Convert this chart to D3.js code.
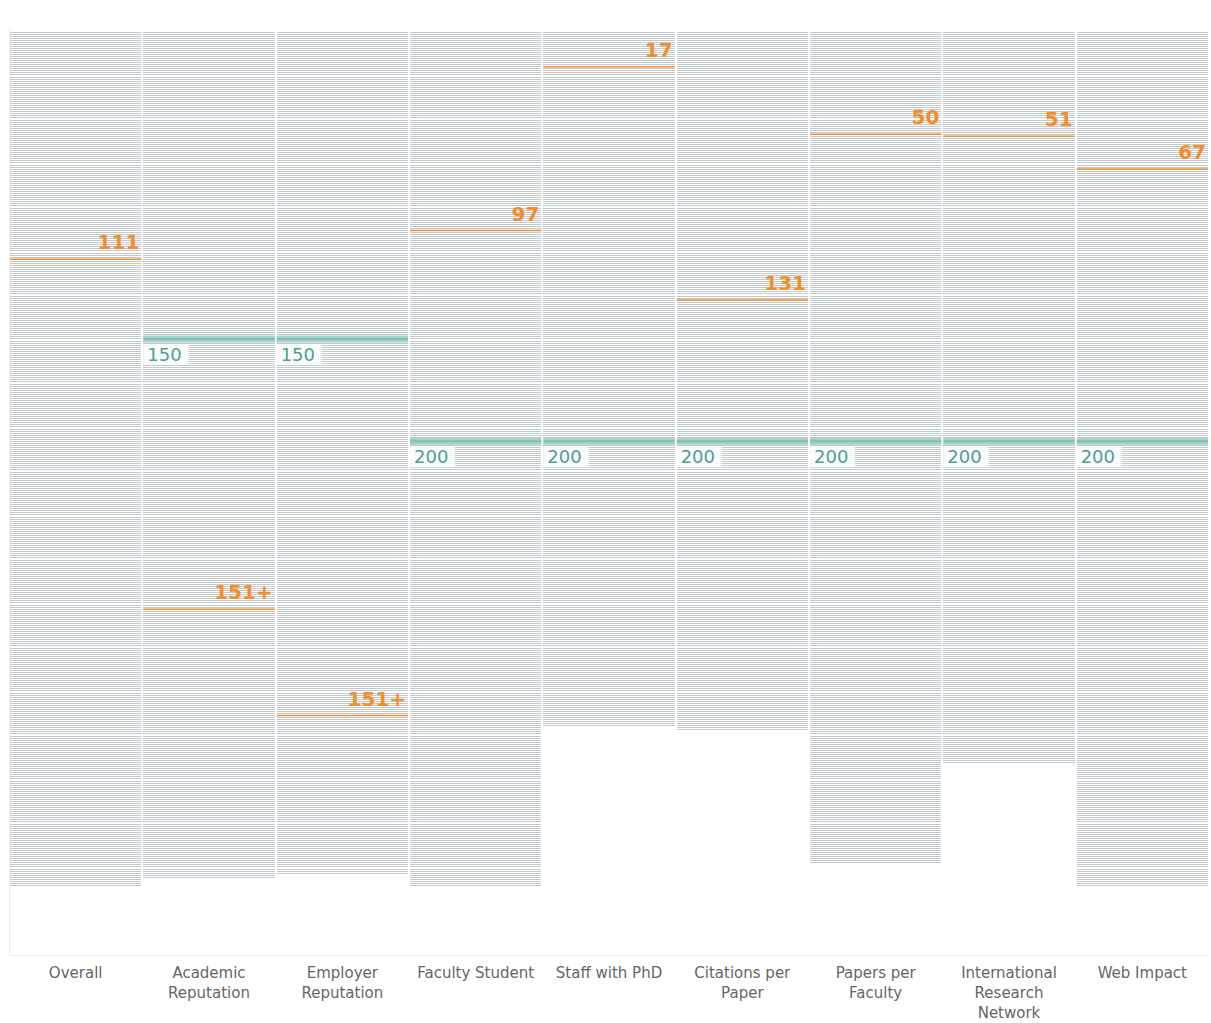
<!DOCTYPE html>
<html>
<head>
<meta charset="utf-8">
<script src="https://cdn.jsdelivr.net/npm/d3@7"></script>
<style>
body { margin: 0; background: #fff; }
svg { font-family: 'DejaVu Sans', sans-serif; }
</style>
</head>
<body>
<svg id="chart" width="1211" height="1023"></svg>
<script>
// one column per ranking indicator
var indicators = ['Overall', 'Academic Reputation', 'Employer Reputation', 'Faculty Student',
  'Staff with PhD', 'Citations per Paper', 'Papers per Faculty',
  'International Research Network', 'Web Impact'];
var axisLabels = [['Overall'], ['Academic', 'Reputation'], ['Employer', 'Reputation'],
  ['Faculty Student'], ['Staff with PhD'], ['Citations per', 'Paper'], ['Papers per', 'Faculty'],
  ['International', 'Research', 'Network'], ['Web Impact']];
// how many ranked universities in each column
var rankedCounts = [418, 414, 412, 418, 340, 342, 407, 358, 418];
// cut-off line (top 150 / top 200)
var cutoffs = [null, 150, 150, 200, 200, 200, 200, 200, 200];
// highlighted university: row position and displayed rank
var highlightRow = [111, 282, 334, 97, 17, 131, 50, 51, 67];
var highlightLabel = ['111', '151+', '151+', '97', '17', '131', '50', '51', '67'];

var svg = d3.select('#chart');
var margin = {top: 32, left: 10, right: 3, bottom: 68};
var width = +svg.attr('width'), height = +svg.attr('height');

var x = d3.scaleBand()
  .domain(indicators)
  .range([margin.left, width - margin.right])
  .paddingInner(0.015);
var y = d3.scaleLinear()
  .domain([0, 451])
  .range([margin.top, height - margin.bottom]);

var plotBottom = height - margin.bottom;

// faint frame
svg.append('line')
  .attr('x1', margin.left - 0.5).attr('x2', margin.left - 0.5)
  .attr('y1', 28).attr('y2', plotBottom)
  .attr('stroke', '#eeeeee');
svg.append('line')
  .attr('x1', margin.left - 0.5).attr('x2', width - margin.right)
  .attr('y1', plotBottom + 0.5).attr('y2', plotBottom + 0.5)
  .attr('stroke', '#eeeeee');

var cols = svg.selectAll('.col')
  .data(indicators)
  .enter()
  .append('g')
  .attr('class', 'col');

// one thin line per university
cols.each(function(name, i) {
  d3.select(this).selectAll('.row')
    .data(d3.range(rankedCounts[i]))
    .enter()
    .append('line')
    .attr('class', 'row')
    .attr('x1', x(name))
    .attr('x2', x(name) + x.bandwidth())
    .attr('y1', function(d) { return y(d); })
    .attr('y2', function(d) { return y(d); })
    .attr('stroke', '#c3c8cc')
    .attr('stroke-width', 1)
    .attr('shape-rendering', 'crispEdges');
});

// cut-off bands
cols.each(function(name, i) {
  if (cutoffs[i] == null) return;
  var g = d3.select(this);
  var cy = y(cutoffs[i]);
  g.append('rect')
    .attr('x', x(name))
    .attr('y', cy - 3.5)
    .attr('width', x.bandwidth())
    .attr('height', 7)
    .attr('fill', '#a3d2cc');
  g.append('line')
    .attr('x1', x(name)).attr('x2', x(name) + x.bandwidth())
    .attr('y1', cy).attr('y2', cy)
    .attr('stroke', '#86bdb6')
    .attr('stroke-width', 2);
  g.append('rect')
    .attr('x', x(name))
    .attr('y', cy + 5)
    .attr('width', 45)
    .attr('height', 21)
    .attr('fill', '#ffffff')
    .attr('opacity', 0.85);
  g.append('text')
    .attr('x', x(name) + 4)
    .attr('y', cy + 22)
    .attr('fill', '#4e9d97')
    .style('font-size', '18px')
    .text(cutoffs[i]);
});

// highlighted university
cols.each(function(name, i) {
  var g = d3.select(this);
  var hy = y(highlightRow[i]);
  g.append('line')
    .attr('x1', x(name)).attr('x2', x(name) + x.bandwidth())
    .attr('y1', hy).attr('y2', hy)
    .attr('stroke', '#f28e2b')
    .attr('stroke-width', 1.5);
  g.append('text')
    .attr('x', x(name) + x.bandwidth() - 2)
    .attr('y', hy - 10)
    .attr('text-anchor', 'end')
    .attr('fill', '#f28e2b')
    .style('font-size', '20px')
    .style('font-weight', 'bold')
    .text(highlightLabel[i]);
});

// column labels
cols.append('text')
  .attr('text-anchor', 'middle')
  .attr('fill', '#666666')
  .style('font-size', '15px')
  .each(function(name, i) {
    var t = d3.select(this);
    axisLabels[i].forEach(function(s, k) {
      t.append('tspan')
        .attr('x', x(name) + x.bandwidth() / 2)
        .attr('y', 978 + k * 20)
        .text(s);
    });
  });
</script>
</body>
</html>
